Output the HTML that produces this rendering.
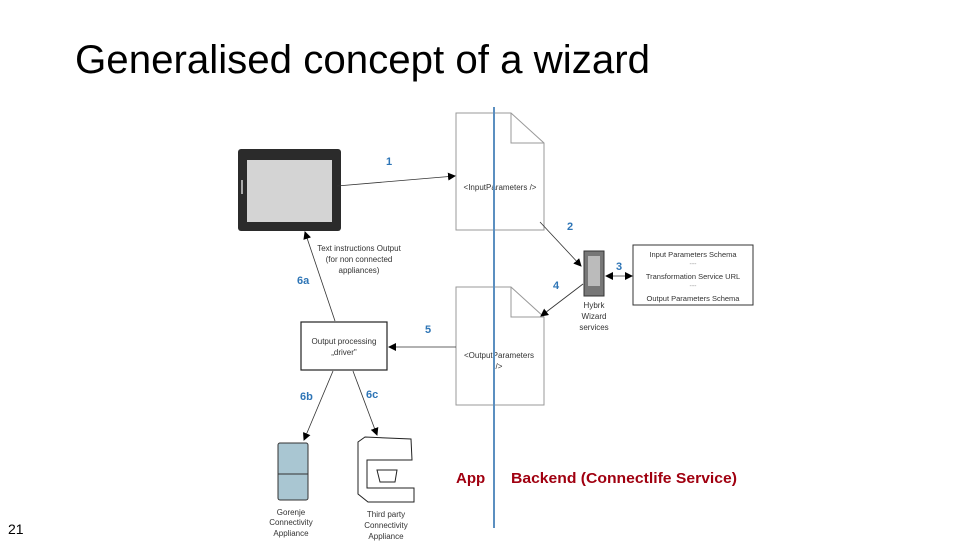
<!DOCTYPE html>
<html><head><meta charset="utf-8"><style>
html,body{margin:0;padding:0;background:#fff;width:979px;height:551px;overflow:hidden}
svg{display:block}
text{font-family:"Liberation Sans",sans-serif}
</style></head><body>
<svg width="979" height="551" viewBox="0 0 979 551" xmlns="http://www.w3.org/2000/svg">
<defs>
<marker id="a" markerWidth="8" markerHeight="8" refX="7" refY="4" orient="auto" markerUnits="userSpaceOnUse">
<path d="M0,0 L8,4 L0,8 z" fill="#000"/></marker>
<marker id="s" markerWidth="8" markerHeight="8" refX="1" refY="4" orient="auto" markerUnits="userSpaceOnUse">
<path d="M8,0 L0,4 L8,8 z" fill="#000"/></marker>
</defs>
<text x="75" y="73" font-size="40" textLength="575" lengthAdjust="spacingAndGlyphs" fill="#000">Generalised concept of a wizard</text>
<text x="8" y="534" font-size="14" fill="#000">21</text>

<!-- tablet -->
<rect x="238" y="149" width="103" height="82" rx="3" fill="#2b2b2b"/>
<rect x="247" y="160" width="85" height="62" fill="#d4d4d4"/>
<rect x="241" y="180" width="2" height="14" fill="#aaa"/>

<!-- docs -->
<path d="M456,113 L511,113 L544,143 L544,230 L456,230 Z" fill="#fff" stroke="#999" stroke-width="1"/>
<path d="M511,113 L511,143 L544,143" fill="none" stroke="#999"/>
<text x="500" y="190" font-size="8" text-anchor="middle" fill="#333">&lt;InputParameters /&gt;</text>
<path d="M456,287 L511,287 L544,317 L544,405 L456,405 Z" fill="#fff" stroke="#999"/>
<path d="M511,287 L511,317 L544,317" fill="none" stroke="#999"/>
<text x="499" y="358" font-size="8" text-anchor="middle" fill="#333">&lt;OutputParameters</text>
<text x="499" y="369" font-size="8" text-anchor="middle" fill="#333">/&gt;</text>

<!-- server -->
<rect x="584" y="251" width="20" height="45" fill="#777" stroke="#333"/>
<rect x="588" y="256" width="12" height="30" fill="#bbb"/>
<text x="594" y="308" font-size="8" text-anchor="middle" fill="#333">Hybrk</text>
<text x="594" y="319" font-size="8" text-anchor="middle" fill="#333">Wizard</text>
<text x="594" y="330" font-size="8" text-anchor="middle" fill="#333">services</text>

<!-- schema box -->
<rect x="633" y="245" width="120" height="60" fill="#fff" stroke="#333"/>
<text x="693" y="257" font-size="7.5" text-anchor="middle" fill="#333">Input Parameters Schema</text>
<text x="693" y="266" font-size="7" text-anchor="middle" fill="#999">---</text>
<text x="693" y="279" font-size="7.5" text-anchor="middle" fill="#333">Transformation Service URL</text>
<text x="693" y="288" font-size="7" text-anchor="middle" fill="#999">---</text>
<text x="693" y="301" font-size="7.5" text-anchor="middle" fill="#333">Output Parameters Schema</text>

<!-- output processing -->
<rect x="301" y="322" width="86" height="48" fill="#fff" stroke="#222" stroke-width="1.2"/>
<text x="344" y="344" font-size="8" text-anchor="middle" fill="#333">Output processing</text>
<text x="344" y="355" font-size="8" text-anchor="middle" fill="#333">„driver"</text>

<!-- connectors -->
<g stroke="#333" stroke-width="0.8" fill="none">
<line x1="337" y1="186" x2="455" y2="176" marker-end="url(#a)"/>
<line x1="540" y1="222" x2="581" y2="266" marker-end="url(#a)"/>
<line x1="606" y1="276" x2="632" y2="276" marker-start="url(#s)" marker-end="url(#a)"/>
<line x1="583" y1="284" x2="541" y2="316" marker-end="url(#a)"/>
<line x1="456" y1="347" x2="389" y2="347" marker-end="url(#a)"/>
<line x1="335" y1="321" x2="305" y2="232" marker-end="url(#a)"/>
<line x1="333" y1="371" x2="304" y2="440" marker-end="url(#a)"/>
<line x1="353" y1="371" x2="377" y2="435" marker-end="url(#a)"/>
</g>

<g fill="#2e75b6" font-size="11" font-weight="bold" font-family="Liberation Sans,sans-serif">
<text x="386" y="165">1</text><text x="567" y="230">2</text><text x="616" y="270">3</text>
<text x="553" y="289">4</text><text x="425" y="333">5</text>
<text x="297" y="284">6a</text><text x="300" y="400">6b</text><text x="366" y="398">6c</text>
</g>
<text x="359" y="251" font-size="8" text-anchor="middle" fill="#333">Text instructions Output</text>
<text x="359" y="262" font-size="8" text-anchor="middle" fill="#333">(for non connected</text>
<text x="359" y="273" font-size="8" text-anchor="middle" fill="#333">appliances)</text>

<!-- fridge -->
<rect x="278" y="443" width="30" height="57" rx="2" fill="#a9c6d2" stroke="#333"/>
<line x1="278" y1="474" x2="308" y2="474" stroke="#333"/>
<text x="291" y="515" font-size="8" text-anchor="middle" fill="#333">Gorenje</text>
<text x="291" y="525" font-size="8" text-anchor="middle" fill="#333">Connectivity</text>
<text x="291" y="536" font-size="8" text-anchor="middle" fill="#333">Appliance</text>

<!-- coffee -->
<g fill="#fff" stroke="#222" stroke-width="1">
<path d="M358,442 L365,437 L411,439 L412,460 L367,460 L367,488 L414,488 L414,502 L368,502 L358,494 Z"/>
<path d="M377,470 L397,470 L395,482 L380,482 Z"/>
</g>
<text x="386" y="517" font-size="8" text-anchor="middle" fill="#333">Third party</text>
<text x="386" y="528" font-size="8" text-anchor="middle" fill="#333">Connectivity</text>
<text x="386" y="539" font-size="8" text-anchor="middle" fill="#333">Appliance</text>

<!-- divider -->
<line x1="494" y1="107" x2="494" y2="528" stroke="#5b8fc0" stroke-width="2"/>
<text x="456" y="483" font-size="15" font-weight="bold" fill="#a00010">App</text>
<text x="511" y="483" font-size="14.5" font-weight="bold" fill="#a00010" textLength="226" lengthAdjust="spacingAndGlyphs">Backend (Connectlife Service)</text>
</svg>
</body></html>
